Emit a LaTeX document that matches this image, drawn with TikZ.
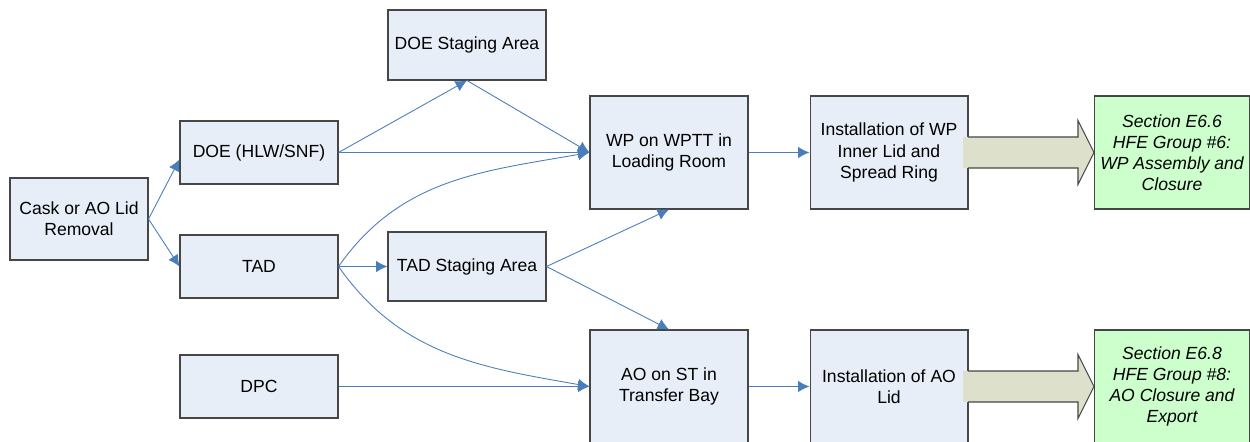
\documentclass[tikz,border=0pt]{standalone}
\usepackage{fontspec}
\setmainfont{Liberation Sans}
\usetikzlibrary{arrows.meta}
\definecolor{boxblue}{RGB}{232,238,247}
\definecolor{boxline}{RGB}{70,70,70}
\definecolor{linkblue}{RGB}{74,126,187}
\definecolor{secgreen}{RGB}{204,255,204}
\definecolor{bigarrow}{RGB}{221,225,204}
\tikzset{
    stepbox/.style={draw=boxline, fill=boxblue, line width=0.6pt, align=center,
        inner sep=2pt, minimum width=3.16cm, font=\fontsize{10}{12}\selectfont},
    smallbox/.style={stepbox, minimum height=1.26cm},
    bigbox/.style={stepbox, minimum height=2.26cm},
    secbox/.style={bigbox, fill=secgreen, minimum width=3.12cm,
        font=\fontsize{10}{12}\selectfont\itshape},
    link/.style={->, draw=linkblue, line width=0.5pt},
}
\begin{document}
\begin{tikzpicture}[x=0.02cm, y=0.02cm, >={Latex[length=6.5pt,width=6.5pt]}]
    \useasboundingbox (0,-442) rectangle (1250,0);
    % Cột trái
    \node[stepbox, minimum width=2.76cm, minimum height=1.64cm] (cask) at (79,-219) {Cask or AO Lid\\Removal};
    \node[smallbox] (doe) at (259,-152.5) {DOE (HLW/SNF)};
    \node[smallbox] (tad) at (259,-266.5) {TAD};
    \node[smallbox] (dpc) at (259,-386.5) {DPC};
    % Khu vực tập kết
    \node[smallbox, minimum height=1.4cm] (doestage) at (467,-45) {DOE Staging Area};
    \node[smallbox, minimum height=1.38cm] (tadstage) at (467,-266.5) {TAD Staging Area};
    % Vị trí xếp tải
    \node[bigbox] (wp) at (669,-152.5) {WP on WPTT in\\Loading Room};
    \node[bigbox] (ao) at (669,-386.5) {AO on ST in\\Transfer Bay};
    \node[bigbox] (instwp) at (889,-152.5) {Installation of WP\\Inner Lid and\\Spread Ring};
    \node[bigbox] (instao) at (889,-386.5) {Installation of AO\\Lid};
    \node[secbox] (sec66) at (1172,-152.5) {Section E6.6\\HFE Group \#6:\\WP Assembly and\\Closure};
    \node[secbox] (sec68) at (1172,-386.5) {Section E6.8\\HFE Group \#8:\\AO Closure and\\Export};
    % Mũi tên
    \draw[link] (cask.east) -- (doe.185);
    \draw[link] (cask.east) -- (tad.west);
    \draw[link] (doe.east) -- (doestage.south);
    \draw[link] (doestage.south) -- (wp.west);
    \draw[link] (doe.east) -- (wp.west);
    \draw[link] (tad.east) to[out=55, in=190] (wp.west);
    \draw[link] (tad.east) -- (tadstage.west);
    \draw[link] (tad.east) to[out=-55, in=170] (ao.west);
    \draw[link] (tadstage.east) -- (wp.south);
    \draw[link] (tadstage.east) -- (ao.north);
    \draw[link] (dpc.east) -- (ao.west);
    \draw[link] (wp.east) -- (instwp.west);
    \draw[link] (ao.east) -- (instao.west);
    % Mũi tên khối
    \foreach \y in {-152.5,-386.5} {
        \fill[bigarrow] (963,\y+15.5) -- (1078,\y+15.5) -- (1078,\y+32) -- (1094,\y)
            -- (1078,\y-32) -- (1078,\y-15.5) -- (963,\y-15.5) -- cycle;
        \draw[boxline, line width=0.6pt, line join=miter] (968,\y+15.5) -- (1078,\y+15.5) -- (1078,\y+32)
            -- (1094,\y) -- (1078,\y-32) -- (1078,\y-15.5) -- (968,\y-15.5);
    }
\end{tikzpicture}
\end{document}
